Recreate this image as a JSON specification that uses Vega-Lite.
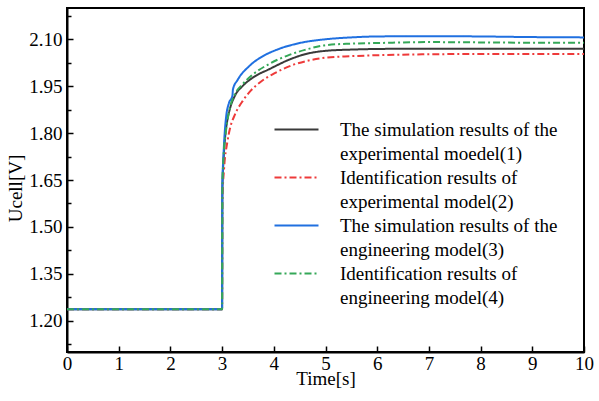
{
  "$schema": "https://vega.github.io/schema/vega-lite/v6.json",
  "width": 517,
  "height": 344,
  "autosize": {"type": "none"},
  "padding": {"left": 67, "top": 8, "right": 15, "bottom": 49},
  "config": {
    "view": {"stroke": "black", "strokeWidth": 2},
    "font": "Liberation Serif",
    "axis": {"labelFont": "Liberation Serif", "titleFont": "Liberation Serif", "labelColor": "black", "titleColor": "black", "domainColor": "black", "tickColor": "black", "grid": false}
  },
  "data": {
    "values": [
      {"t": 0, "u": 1.237, "s": "m1"}, {"t": 3, "u": 1.237, "s": "m1"}, {"t": 3.005, "u": 1.62, "s": "m1"}, {"t": 3.03, "u": 1.72, "s": "m1"}, {"t": 3.06, "u": 1.79, "s": "m1"}, {"t": 3.1, "u": 1.84, "s": "m1"}, {"t": 3.15, "u": 1.877, "s": "m1"}, {"t": 3.25, "u": 1.92, "s": "m1"}, {"t": 3.4, "u": 1.951, "s": "m1"}, {"t": 3.6, "u": 1.978, "s": "m1"}, {"t": 3.92, "u": 2.005, "s": "m1"}, {"t": 4.3, "u": 2.035, "s": "m1"}, {"t": 4.6, "u": 2.052, "s": "m1"}, {"t": 5, "u": 2.063, "s": "m1"}, {"t": 5.5, "u": 2.067, "s": "m1"}, {"t": 6, "u": 2.069, "s": "m1"}, {"t": 7, "u": 2.07, "s": "m1"}, {"t": 8, "u": 2.07, "s": "m1"}, {"t": 9, "u": 2.07, "s": "m1"}, {"t": 10, "u": 2.07, "s": "m1"},
      {"t": 0, "u": 1.237, "s": "m2"}, {"t": 3, "u": 1.237, "s": "m2"}, {"t": 3.005, "u": 1.58, "s": "m2"}, {"t": 3.04, "u": 1.69, "s": "m2"}, {"t": 3.1, "u": 1.77, "s": "m2"}, {"t": 3.15, "u": 1.813, "s": "m2"}, {"t": 3.25, "u": 1.86, "s": "m2"}, {"t": 3.4, "u": 1.903, "s": "m2"}, {"t": 3.55, "u": 1.935, "s": "m2"}, {"t": 3.73, "u": 1.962, "s": "m2"}, {"t": 4, "u": 1.99, "s": "m2"}, {"t": 4.37, "u": 2.018, "s": "m2"}, {"t": 4.7, "u": 2.033, "s": "m2"}, {"t": 5, "u": 2.041, "s": "m2"}, {"t": 5.5, "u": 2.046, "s": "m2"}, {"t": 6, "u": 2.049, "s": "m2"}, {"t": 7, "u": 2.052, "s": "m2"}, {"t": 8, "u": 2.053, "s": "m2"}, {"t": 9, "u": 2.053, "s": "m2"}, {"t": 10, "u": 2.053, "s": "m2"},
      {"t": 0, "u": 1.237, "s": "m3"}, {"t": 3, "u": 1.237, "s": "m3"}, {"t": 3.005, "u": 1.63, "s": "m3"}, {"t": 3.03, "u": 1.74, "s": "m3"}, {"t": 3.05, "u": 1.8, "s": "m3"}, {"t": 3.08, "u": 1.855, "s": "m3"}, {"t": 3.13, "u": 1.895, "s": "m3"}, {"t": 3.2, "u": 1.92, "s": "m3"}, {"t": 3.21, "u": 1.94, "s": "m3"}, {"t": 3.3, "u": 1.97, "s": "m3"}, {"t": 3.53, "u": 2.015, "s": "m3"}, {"t": 3.8, "u": 2.047, "s": "m3"}, {"t": 4.05, "u": 2.066, "s": "m3"}, {"t": 4.5, "u": 2.088, "s": "m3"}, {"t": 5, "u": 2.1, "s": "m3"}, {"t": 5.5, "u": 2.106, "s": "m3"}, {"t": 6, "u": 2.109, "s": "m3"}, {"t": 7, "u": 2.11, "s": "m3"}, {"t": 8, "u": 2.109, "s": "m3"}, {"t": 9, "u": 2.107, "s": "m3"}, {"t": 10, "u": 2.106, "s": "m3"},
      {"t": 0, "u": 1.237, "s": "m4"}, {"t": 3, "u": 1.237, "s": "m4"}, {"t": 3.005, "u": 1.62, "s": "m4"}, {"t": 3.03, "u": 1.73, "s": "m4"}, {"t": 3.07, "u": 1.8, "s": "m4"}, {"t": 3.15, "u": 1.88, "s": "m4"}, {"t": 3.25, "u": 1.925, "s": "m4"}, {"t": 3.4, "u": 1.957, "s": "m4"}, {"t": 3.6, "u": 1.988, "s": "m4"}, {"t": 3.92, "u": 2.022, "s": "m4"}, {"t": 4.3, "u": 2.05, "s": "m4"}, {"t": 4.6, "u": 2.066, "s": "m4"}, {"t": 5, "u": 2.081, "s": "m4"}, {"t": 5.5, "u": 2.086, "s": "m4"}, {"t": 6, "u": 2.088, "s": "m4"}, {"t": 7, "u": 2.091, "s": "m4"}, {"t": 8, "u": 2.09, "s": "m4"}, {"t": 9, "u": 2.089, "s": "m4"}, {"t": 10, "u": 2.089, "s": "m4"}
    ]
  },
  "mark": {"type": "line", "strokeWidth": 2, "interpolate": "monotone"},
  "encoding": {
    "x": {
      "field": "t", "type": "quantitative",
      "scale": {"domain": [0, 10], "nice": false},
      "axis": {
        "title": "Time[s]", "titleFontSize": 19, "titleFontWeight": "normal", "titlePadding": -4,
        "values": [0, 0.5, 1, 1.5, 2, 2.5, 3, 3.5, 4, 4.5, 5, 5.5, 6, 6.5, 7, 7.5, 8, 8.5, 9, 9.5, 10],
        "format": "d",
        "labelExpr": "datum.value % 1 == 0 ? datum.label : ''",
        "labelFontSize": 19, "labelFlush": false, "labelPadding": 8,
        "domainWidth": 2, "tickWidth": 1.5,
        "tickSize": {"condition": {"test": "datum.value % 1 != 0", "value": -4}, "value": -6}
      }
    },
    "y": {
      "field": "u", "type": "quantitative",
      "scale": {"domain": [1.1, 2.2], "nice": false, "zero": false},
      "axis": {
        "title": "Ucell[V]", "titleFontSize": 19, "titleFontWeight": "normal", "titlePadding": 3, "titleY": 180,
        "values": [1.125, 1.2, 1.275, 1.35, 1.425, 1.5, 1.575, 1.65, 1.725, 1.8, 1.875, 1.95, 2.025, 2.1, 2.175],
        "labelExpr": "round(datum.value * 1000) % 150 == 0 ? format(datum.value, '.2f') : ''",
        "labelFontSize": 19, "labelFlush": false, "labelPadding": 11,
        "domainWidth": 2, "tickWidth": 1.5,
        "tickSize": {"condition": {"test": "round(datum.value * 1000) % 150 != 0", "value": -4}, "value": -6}
      }
    },
    "color": {
      "field": "s", "type": "nominal",
      "scale": {"domain": ["m1", "m1b", "m2", "m2b", "m3", "m3b", "m4", "m4b"], "range": ["#3a3a3a", "transparent", "#ee3a3a", "transparent", "#2070e0", "transparent", "#35a858", "transparent"]},
      "legend": {
        "orient": "none", "legendX": 220, "legendY": 112, "title": null,
        "symbolType": "M-2.75,0H2.75", "symbolSize": 256, "symbolStrokeWidth": 2,
        "labelFontSize": 19, "labelFont": "Liberation Serif", "labelColor": "black", "labelLimit": 0, "labelOffset": 34,
        "rowPadding": 4,
        "labelExpr": "{'m1': 'The simulation results of the', 'm1b': ' experimental moedel(1)', 'm2': ' Identification results of', 'm2b': 'experimental model(2)', 'm3': 'The simulation results of the', 'm3b': 'engineering model(3)', 'm4': ' Identification results of', 'm4b': 'engineering model(4)'}[datum.label]"
      }
    },
    "strokeDash": {
      "field": "s", "type": "nominal",
      "scale": {"domain": ["m1", "m1b", "m2", "m2b", "m3", "m3b", "m4", "m4b"], "range": [[1, 0], [1, 0], [7, 3, 2, 3], [1, 0], [1, 0], [1, 0], [7, 3, 2, 3], [1, 0]]}
    }
  }
}
